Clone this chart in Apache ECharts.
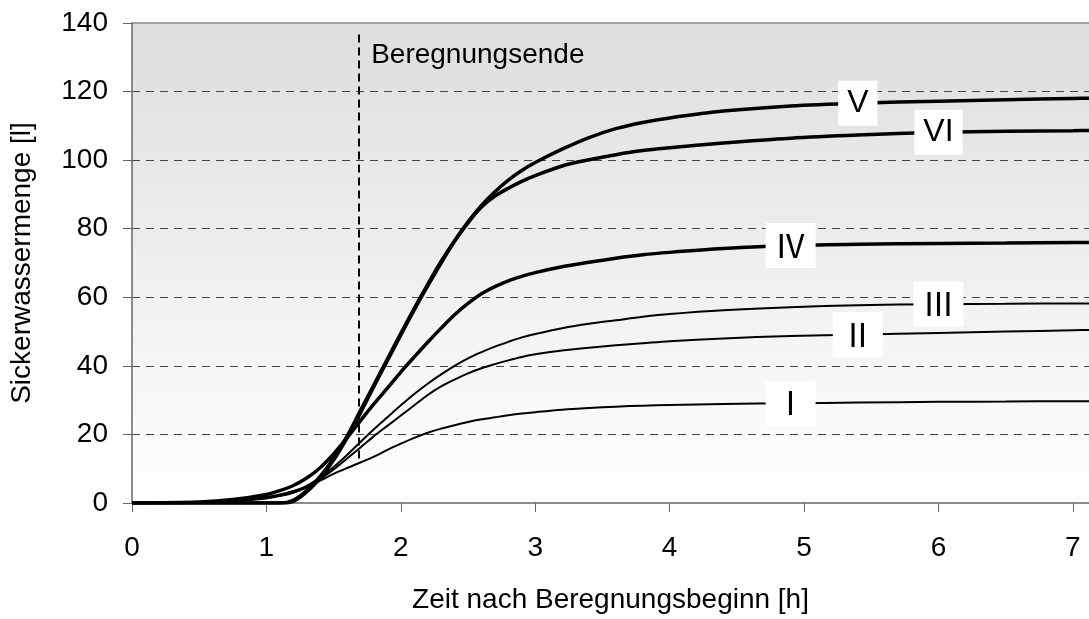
<!DOCTYPE html>
<html>
<head>
<meta charset="utf-8">
<script src="https://cdn.jsdelivr.net/npm/echarts@6/dist/echarts.min.js"></script>
<style>
  html, body { margin: 0; padding: 0; background: #fff; }
  #chart { width: 1089px; height: 619px; }
</style>
</head>
<body>
<div id="chart"></div>
<script>
// Zeit nach Beregnungsbeginn [h]
var time = [0, 0.5, 0.75, 1.0, 1.1, 1.2, 1.3, 1.4, 1.5, 1.6, 1.7, 1.8, 1.9, 2.0, 2.1, 2.2, 2.3, 2.4, 2.5, 2.6,
  2.7, 2.8, 2.9, 3.0, 3.2, 3.4, 3.6, 3.8, 4.0, 4.4, 4.9, 5.4, 6.0, 6.5, 7.0, 7.15];

// Sickerwassermenge [l]
var seriesV = [0, 0, 0, 0, 0, 0.8, 3.6, 7.8, 13, 19.5, 27, 34.5, 42, 49.5, 56.8, 63.8, 70.5, 76.5, 82, 86.8,
  90.8, 94.2, 97, 99.3, 103.2, 106.6, 109.2, 111, 112.3, 114.3, 115.8, 116.6, 117.2, 117.6, 118, 118.1];
var seriesVI = [0, 0, 0, 0, 0, 0.5, 3.2, 7.3, 12.5, 19, 26.3, 34, 41.5, 49, 56.3, 63.3, 70, 76.3, 81.7, 86.3,
  89.5, 91.8, 93.8, 95.5, 98.3, 100.1, 101.6, 102.8, 103.6, 105, 106.4, 107.3, 108.1, 108.4, 108.6, 108.7];
var seriesIV = [0, 0.3, 1.0, 2.5, 3.6, 5.1, 7.3, 10.3, 14.3, 19, 24, 28.9, 33.5, 38.2, 42.6, 46.9, 51, 54.9, 58.2, 61,
  63.1, 64.8, 66.1, 67.2, 68.9, 70.2, 71.4, 72.4, 73.1, 74.2, 75.1, 75.5, 75.7, 75.8, 76, 76];
var seriesIII = [0, 0.2, 0.8, 1.8, 2.5, 3.5, 5, 7.5, 10.5, 14, 17.8, 21.5, 25, 28.5, 31.8, 34.8, 37.5, 40, 42.2, 44,
  45.6, 47, 48.3, 49.3, 51, 52.3, 53.3, 54.3, 55.1, 56.2, 57.1, 57.7, 58, 58.1, 58.2, 58.2];
var seriesII = [0, 0.2, 0.6, 1.5, 2.2, 3.2, 4.8, 7, 9.8, 13, 16.2, 19.5, 22.5, 25.5, 28.5, 31.5, 34, 36, 37.8, 39.3,
  40.5, 41.6, 42.6, 43.4, 44.5, 45.3, 46, 46.6, 47.2, 48, 48.7, 49.1, 49.6, 50, 50.4, 50.5];
var seriesI = [0, 0.1, 0.5, 1.3, 2, 3, 4.5, 6.5, 8.5, 10.2, 11.8, 13.5, 15.5, 17.3, 19, 20.5, 21.7, 22.7, 23.6, 24.4,
  25, 25.6, 26.1, 26.5, 27.2, 27.7, 28.1, 28.4, 28.6, 28.9, 29.1, 29.3, 29.5, 29.6, 29.7, 29.7];

var names = ["V", "VI", "Ⅳ", "Ⅲ", "Ⅱ", "Ⅰ"];
var values = [seriesV, seriesVI, seriesIV, seriesIII, seriesII, seriesI];
var labelIndex = [31, 32, 30, 32, 31, 30];   // where the name sits on the curve
var widths = [3.5, 3.5, 3.5, 2, 2, 2];

var rainEnd = 1.69;           // Beregnungsende
var rainLine = [13, 137];
var rainLabelLevel = 130.5;

var FONT = "'Liberation Sans', Arial, sans-serif";

function buildData(vals, li, name) {
  return vals.map(function (v, i) {
    if (i !== li) return [time[i], v];
    return {
      value: [time[i], v],
      label: {
        show: true,
        position: "inside",
        formatter: name,
        backgroundColor: "#fff",
        color: "#000",
        fontSize: 32,
        lineHeight: 37,
        padding: [4, 9],
        fontFamily: /^[VI]+$/.test(name) ? FONT : "'Noto Sans CJK JP', " + FONT
      }
    };
  });
}

var chart = echarts.init(document.getElementById("chart"));

var series = names.map(function (n, k) {
  return {
    name: n,
    type: "line",
    smooth: 0.3,
    symbol: "circle",
    symbolSize: 0,
    showSymbol: true,
    silent: true,
    z: 3 + k,
    lineStyle: { color: "#000", width: widths[k] },
    itemStyle: { color: "#000" },
    emphasis: { disabled: true },
    data: buildData(values[k], labelIndex[k], n)
  };
});

series[0].markLine = {
  silent: true,
  symbol: "none",
  label: { show: false },
  lineStyle: { color: "#000", width: 2, type: [8, 5] },
  data: [[{ coord: [rainEnd, rainLine[0]] }, { coord: [rainEnd, rainLine[1]] }]]
};
series[0].markPoint = {
  silent: true,
  symbolSize: 0,
  label: {
    show: true,
    position: "right",
    distance: 12,
    formatter: "Beregnungsende",
    color: "#000",
    fontSize: 28,
    fontFamily: FONT
  },
  data: [{ coord: [rainEnd, rainLabelLevel] }]
};

var option = {
  animation: false,
  backgroundColor: "#fff",
  grid: {
    left: 132,
    right: 0,
    top: 23,
    bottom: 114,
    show: true,
    borderWidth: 0,
    backgroundColor: new echarts.graphic.LinearGradient(0, 0, 0, 1, [
      { offset: 0, color: "#dedede" },
      { offset: 0.5, color: "#efefef" },
      { offset: 1, color: "#ffffff" }
    ])
  },
  xAxis: [{
    type: "value",
    min: 0,
    max: 7.12,
    interval: 1,
    name: "Zeit nach Beregnungsbeginn [h]",
    nameLocation: "middle",
    nameGap: 83,
    nameTextStyle: { color: "#000", fontSize: 28, fontFamily: FONT },
    axisLine: { lineStyle: { color: "#666", width: 1.5 } },
    axisTick: { show: true, length: 9, lineStyle: { color: "#666" } },
    axisLabel: { color: "#000", fontSize: 28, fontFamily: FONT, margin: 31, showMaxLabel: false },
    splitLine: { show: false }
  }, {
    type: "value",
    position: "top",
    min: 0,
    max: 7.12,
    axisLine: { show: true, onZero: false, lineStyle: { color: "#888", width: 1.5 } },
    axisTick: { show: false },
    axisLabel: { show: false },
    splitLine: { show: false }
  }],
  yAxis: {
    type: "value",
    min: 0,
    max: 140,
    interval: 20,
    name: "Sickerwassermenge [l]",
    nameLocation: "middle",
    nameGap: 96,
    nameTextStyle: { color: "#000", fontSize: 28, fontFamily: FONT },
    axisLine: { show: true, lineStyle: { color: "#666", width: 1.5 } },
    axisTick: { show: true, length: 9, lineStyle: { color: "#666" } },
    axisLabel: { color: "#000", fontSize: 28, fontFamily: FONT, margin: 24 },
    splitLine: {
      show: true,
      showMinLine: false,
      showMaxLine: false,
      lineStyle: { color: "#444", width: 1, type: [8, 6] }
    }
  },
  series: series
};

chart.setOption(option);
</script>
</body>
</html>
